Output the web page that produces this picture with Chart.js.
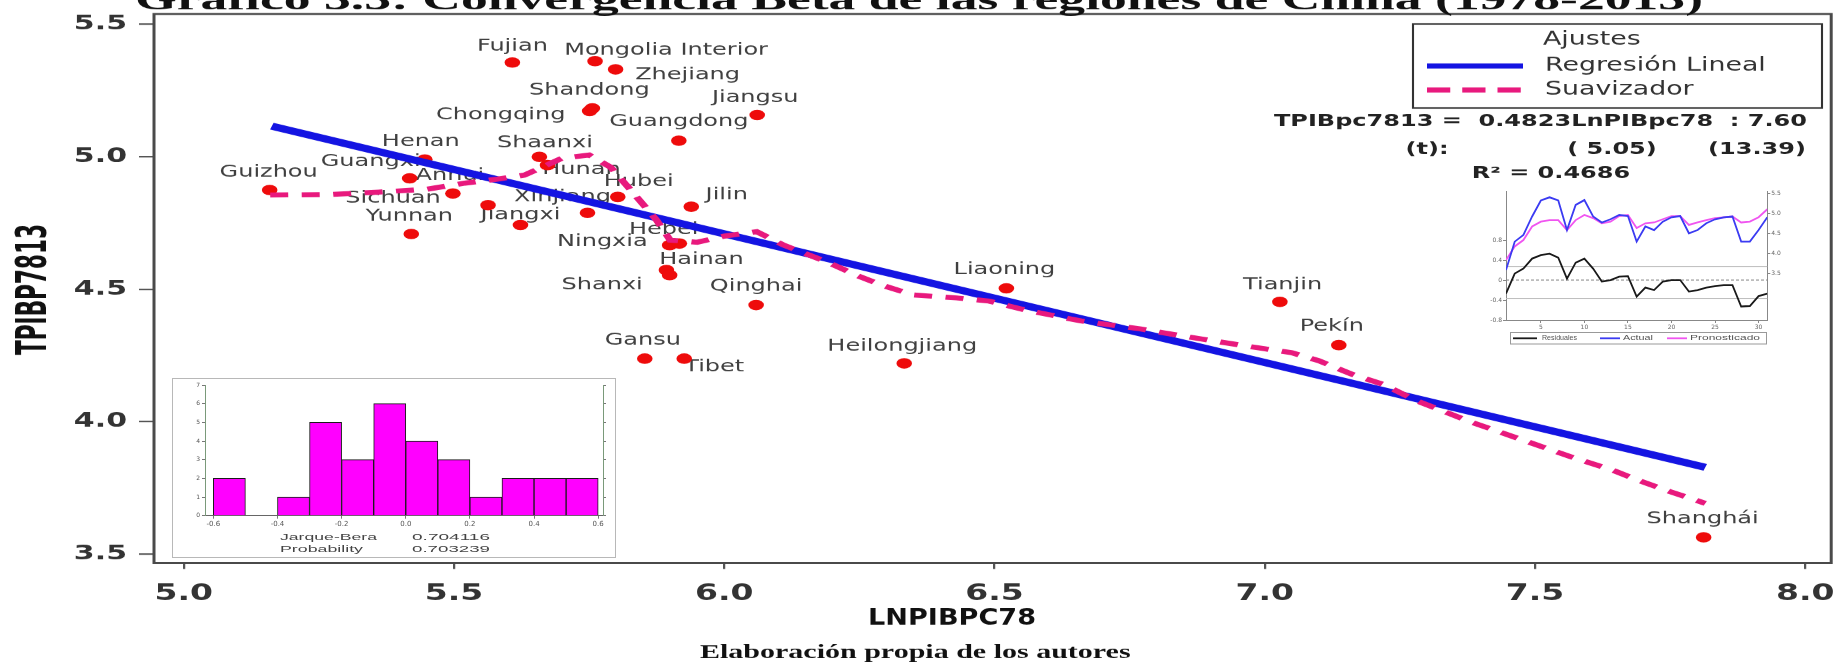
<!DOCTYPE html>
<html>
<head>
<meta charset="utf-8">
<title>Convergencia Beta de las regiones de China (1978-2013)</title>
<script src="https://cdn.jsdelivr.net/npm/chart.js@4.4.1/dist/chart.umd.min.js"></script>
<style>
html, body { margin:0; padding:0; background:#fff; }
#wrap { position:relative; width:1839px; height:662px; overflow:hidden; background:#fff; }
canvas { position:absolute; }
</style>
</head>
<body>
<div id="wrap">
  <canvas id="main" width="1226" height="662" style="left:0;top:0;width:1839px;height:662px;"></canvas>
  <canvas id="hist" width="444" height="180" style="left:172px;top:378px;width:444px;height:180px;"></canvas>
  <canvas id="resid" width="312" height="162" style="left:1484px;top:186px;width:312px;height:162px;"></canvas>
</div>
<script>
// ---------------- DATA ----------------
const regions = ["Fujian","Mongolia Interior","Zhejiang","Shandong","Chongqing","Jiangsu","Guangdong","Henan","Shaanxi","Hunan","Guangxi","Guizhou","Anhui","Sichuan","Xinjiang","Jiangxi","Yunnan","Jilin","Hubei","Hebei","Ningxia","Hainan","Shanxi","Qinghai","Gansu","Tibet","Heilongjiang","Liaoning","Tianjin","Pekín","Shanghái"];
const lnPib78 = [5.608,5.761,5.799,5.756,5.751,6.061,5.916,5.446,5.658,5.673,5.418,5.159,5.498,5.563,5.747,5.623,5.421,5.939,5.803,5.899,5.917,5.893,5.899,6.059,5.853,5.926,6.333,6.522,7.028,7.137,7.812];
const tpib7813 = [5.355,5.360,5.329,5.182,5.172,5.157,5.060,4.989,4.999,4.968,4.918,4.874,4.861,4.817,4.788,4.742,4.708,4.811,4.848,4.666,4.672,4.572,4.553,4.440,4.238,4.238,4.220,4.503,4.452,4.289,3.564];

const regX = [5.163, 7.815];
const regY = [5.115, 3.828];

const smoothX = [5.160,5.270,5.360,5.450,5.520,5.580,5.630,5.700,5.750,5.790,5.835,5.875,5.900,5.950,6.000,6.060,6.110,6.190,6.245,6.290,6.350,6.430,6.490,6.560,6.660,6.770,6.840,6.920,7.000,7.050,7.100,7.160,7.220,7.280,7.380,7.570,7.640,7.690,7.750,7.815];
const smoothY = [4.855,4.857,4.866,4.877,4.900,4.915,4.930,4.994,5.006,4.960,4.855,4.760,4.685,4.677,4.700,4.717,4.666,4.603,4.552,4.516,4.478,4.467,4.455,4.420,4.380,4.350,4.326,4.300,4.275,4.260,4.230,4.180,4.140,4.080,4.000,3.865,3.820,3.780,3.736,3.692];

const xTicks = [5.0,5.5,6.0,6.5,7.0,7.5,8.0];
const xTickLabels = ["5.0","5.5","6.0","6.5","7.0","7.5","8.0"];
const yTicks = [3.5,4.0,4.5,5.0,5.5];
const yTickLabels = ["3.5","4.0","4.5","5.0","5.5"];

// histogram of residuals (inset)
const histCenters = [-0.55,-0.45,-0.35,-0.25,-0.15,-0.05,0.05,0.15,0.25,0.35,0.45,0.55];
const histCounts = [2,0,1,5,3,6,4,3,1,2,2,2];
const histTicks = [-0.6,-0.4,-0.2,0.0,0.2,0.4,0.6];
const histTickLabels = ["-0.6","-0.4","-0.2","0.0","0.2","0.4","0.6"];
const histYTicks = [0,1,2,3,4,5,6,7];

// residual / actual / fitted (inset)
const obs = [1,2,3,4,5,6,7,8,9,10,11,12,13,14,15,16,17,18,19,20,21,22,23,24,25,26,27,28,29,30,31];
const actual = [3.58,4.29,4.46,4.92,5.32,5.40,5.32,4.58,5.21,5.33,4.92,4.77,4.85,4.96,4.93,4.29,4.67,4.58,4.79,4.90,4.93,4.50,4.58,4.75,4.85,4.90,4.92,4.29,4.29,4.58,4.90];
const fitted = [3.83,4.17,4.33,4.67,4.79,4.83,4.83,4.58,4.83,4.96,4.88,4.75,4.79,4.93,4.96,4.63,4.75,4.77,4.85,4.93,4.93,4.71,4.77,4.83,4.88,4.90,4.92,4.77,4.79,4.90,5.10];
const residual = [-0.27,0.13,0.23,0.43,0.50,0.53,0.45,0.03,0.35,0.43,0.23,-0.03,0.00,0.07,0.08,-0.33,-0.15,-0.20,-0.03,0.00,0.00,-0.23,-0.20,-0.15,-0.12,-0.10,-0.10,-0.53,-0.52,-0.32,-0.27];
const residRefLines = [0.27, -0.37];
const obsTicks = [5,10,15,20,25,30];
const residTicks = [-0.8,-0.4,0.0,0.4,0.8];
const levelTicks = [3.5,4.0,4.5,5.0,5.5];

// ---------------- STYLE / LAYOUT ----------------
const SX = 1.5;            // horizontal stretch of the main picture
const BLUE = '#1414e2', PINK = '#e8197d', RED = '#ee0b0b';
Chart.defaults.font.family = '"DejaVu Sans", Verdana, sans-serif';

// label offsets (screen px) from each point
const labelOffsets = {
  "Fujian":[0,-16], "Mongolia Interior":[71,-11], "Zhejiang":[72,6], "Shandong":[-3,-18],
  "Chongqing":[-89,4], "Jiangsu":[-2,-17], "Guangdong":[0,-19], "Henan":[-4,-17.5],
  "Shaanxi":[5.5,-14], "Hunan":[34,5], "Guangxi":[-39,-16.5], "Guizhou":[-1,-17.3],
  "Anhui":[-3,-17.3], "Sichuan":[-95,-6.7], "Xinjiang":[-25,-15.4], "Jiangxi":[0,-10],
  "Yunnan":[-2,-17.3], "Jilin":[35.5,-11.7], "Hubei":[21,-15], "Hebei":[-6,-15],
  "Ningxia":[-77,-1.6], "Hainan":[35,-10], "Shanxi":[-67.5,10], "Qinghai":[0,-18.3],
  "Gansu":[-2,-18.3], "Tibet":[30,8.4], "Heilongjiang":[-2,-16.6], "Liaoning":[-2,-18.3],
  "Tianjin":[2.7,-16.7], "Pekín":[-7,-18.3], "Shanghái":[-1,-18.2]
};

function fixPad(s) { s.paddingTop = 0; s.paddingBottom = 0; s.paddingLeft = 0; s.paddingRight = 0; }

function txt(ctx, s, x, y, o) {
  o = o || {};
  const sx = o.sx || SX;
  ctx.save();
  ctx.font = o.font || '16px "DejaVu Sans"';
  ctx.fillStyle = o.color || '#333';
  ctx.textAlign = o.align || 'center';
  ctx.textBaseline = o.baseline || 'middle';
  ctx.translate(x / sx, y);
  if (o.rotate) ctx.rotate(o.rotate);
  let hs = o.hscale || 1;
  if (o.width) {
    const w = ctx.measureText(s).width;
    hs = o.rotate ? o.width / w : o.width / (sx * w);
  }
  ctx.scale(hs, 1);
  ctx.fillText(s, 0, 0);
  ctx.restore();
}

// ---------------- MAIN CHART ----------------
const decor = {
  id: 'decor',
  beforeDraw(chart) {
    const c = chart.ctx; c.save(); c.fillStyle = '#fff'; c.fillRect(0, 0, chart.width, chart.height); c.restore();
  },
  beforeDatasetsDraw(chart) {
    const c = chart.ctx, xs = chart.scales.x, ys = chart.scales.y;
    regions.forEach((name, i) => {
      const off = labelOffsets[name] || [0, -17];
      const px = xs.getPixelForValue(lnPib78[i]) * SX + off[0];
      const py = ys.getPixelForValue(tpib7813[i]) + off[1];
      txt(c, name, px, py, { font: '16px "DejaVu Sans"', color: '#404040' });
    });
  },
  afterDraw(chart) {
    const c = chart.ctx, a = chart.chartArea;
    c.save();
    c.strokeStyle = '#4a4a4a'; c.lineWidth = 2;
    c.strokeRect(a.left, a.top, a.right - a.left, a.bottom - a.top);
    // legend box
    c.lineWidth = 1.4; c.strokeStyle = '#333';
    c.strokeRect(1413 / SX, 24, (1822 - 1413) / SX, 84);
    c.lineWidth = 5; c.strokeStyle = BLUE;
    c.beginPath(); c.moveTo(1427 / SX, 66); c.lineTo(1523 / SX, 66); c.stroke();
    c.strokeStyle = PINK; c.setLineDash([15.5, 8]);
    c.beginPath(); c.moveTo(1427 / SX, 90); c.lineTo(1523 / SX, 90); c.stroke();
    c.restore();
    const lf = '19px "DejaVu Sans"';
    txt(c, 'Ajustes', 1543, 40, { font: lf, align: 'left', color: '#333', hscale: 0.94 });
    txt(c, 'Regresión Lineal', 1545, 66, { font: lf, align: 'left', color: '#333', hscale: 0.94 });
    txt(c, 'Suavizador', 1545, 90, { font: lf, align: 'left', color: '#333', hscale: 0.94 });
    // equation
    const ef = 'bold 16px "DejaVu Sans"';
    txt(c, 'TPIBpc7813 =  0.4823LnPIBpc78  : 7.60', 1807, 122, { font: ef, align: 'right', color: '#222' });
    txt(c, '(t):', 1427, 150, { font: ef, color: '#222' });
    txt(c, '( 5.05)', 1612, 150, { font: ef, color: '#222' });
    txt(c, '(13.39)', 1757, 150, { font: ef, color: '#222' });
    txt(c, 'R² = 0.4686', 1551, 174, { font: ef, color: '#222' });
    // titles
    txt(c, 'Gráfico 3.3: Convergencia Beta de las regiones de China (1978-2013)', 135, 9,
        { font: 'bold 31px "Liberation Serif", "Times New Roman", serif', align: 'left', baseline: 'alphabetic', width: 1568, color: '#111' });
    txt(c, 'LNPIBPC78', 868, 619, { font: 'bold 22px "DejaVu Sans"', align: 'left', width: 168, color: '#111' });
    txt(c, 'Elaboración propia de los autores', 700, 653,
        { font: 'bold 20px "Liberation Serif", "Times New Roman", serif', align: 'left', color: '#111' });
    txt(c, 'TPIBP7813', 35, 289.5,
        { font: 'bold 28px "Liberation Sans Narrow", "DejaVu Sans Condensed", sans-serif', rotate: -Math.PI / 2, width: 131, color: '#111' });
  }
};

new Chart(document.getElementById('main'), {
  type: 'scatter',
  data: {
    datasets: [
      { label: 'Suavizador', type: 'line', data: smoothX.map((x, i) => ({ x, y: smoothY[i] })),
        borderColor: PINK, borderWidth: 5, borderDash: [12, 9], pointRadius: 0, showLine: true, fill: false, tension: 0, order: 0 },
      { label: 'Regresión Lineal', type: 'line', data: regX.map((x, i) => ({ x, y: regY[i] })),
        borderColor: BLUE, borderWidth: 7, pointRadius: 0, showLine: true, fill: false, order: 1 },
      { label: 'Regiones', data: lnPib78.map((x, i) => ({ x, y: tpib7813[i] })),
        backgroundColor: RED, borderWidth: 0, pointRadius: 5.2, pointHoverRadius: 5.2, order: 2 }
    ]
  },
  options: {
    responsive: false, animation: false, devicePixelRatio: SX,
    layout: { padding: { left: 0, right: 4, top: 14, bottom: 0 } },
    plugins: { legend: { display: false }, tooltip: { enabled: false }, title: { display: false } },
    scales: {
      x: {
        type: 'linear', min: 4.945, max: 8.048,
        afterBuildTicks: s => { s.ticks = xTicks.map(v => ({ value: v })); },
        afterFit: s => { s.height = 99; fixPad(s); },
        ticks: { callback: (v, i) => xTickLabels[i], font: { size: 22, weight: 'bold' }, color: '#333', padding: 12, autoSkip: false, maxRotation: 0 },
        grid: { display: true, drawOnChartArea: false, drawTicks: true, tickLength: 6, color: '#555', lineWidth: 1.5 },
        border: { display: false }
      },
      y: {
        type: 'linear', min: 3.467, max: 5.538,
        afterBuildTicks: s => { s.ticks = yTicks.map(v => ({ value: v })); },
        afterFit: s => { s.width = 102.67; fixPad(s); },
        ticks: { callback: (v, i) => yTickLabels[i], font: { size: 20, weight: 'bold' }, color: '#333', padding: 8, autoSkip: false },
        grid: { display: true, drawOnChartArea: false, drawTicks: true, tickLength: 10, color: '#555', lineWidth: 1.5 },
        border: { display: false }
      }
    }
  },
  plugins: [decor]
});

// ---------------- HISTOGRAM INSET ----------------
const histDecor = {
  id: 'histDecor',
  beforeDraw(chart) {
    const c = chart.ctx; c.save(); c.fillStyle = '#fff'; c.fillRect(0, 0, chart.width, chart.height);
    c.strokeStyle = '#b8b8b8'; c.lineWidth = 1; c.strokeRect(0.5, 0.5, chart.width - 1, chart.height - 1); c.restore();
  },
  afterDraw(chart) {
    const c = chart.ctx, f = '9px "Liberation Sans", Arial, sans-serif';
    txt(c, 'Jarque-Bera', 108, 160, { sx: 1, font: f, align: 'left', width: 97, color: '#444' });
    txt(c, '0.704116', 240, 160, { sx: 1, font: f, align: 'left', width: 78, color: '#444' });
    txt(c, 'Probability', 108, 172, { sx: 1, font: f, align: 'left', width: 83, color: '#444' });
    txt(c, '0.703239', 240, 172, { sx: 1, font: f, align: 'left', width: 78, color: '#444' });
  }
};
new Chart(document.getElementById('hist'), {
  type: 'bar',
  data: { datasets: [{ data: histCenters.map((x, i) => ({ x, y: histCounts[i] })),
    backgroundColor: '#ff00ff', borderColor: '#1a1a1a', borderWidth: 1, barPercentage: 1, categoryPercentage: 1 }] },
  options: {
    responsive: false, animation: false, devicePixelRatio: 1,
    layout: { padding: { top: 7, left: 0, right: 0, bottom: 0 } },
    plugins: { legend: { display: false }, tooltip: { enabled: false } },
    scales: {
      x: { type: 'linear', min: -0.626, max: 0.615, offset: false,
        afterBuildTicks: s => { s.ticks = histTicks.map(v => ({ value: v })); },
        afterFit: s => { s.height = 42.3; fixPad(s); },
        ticks: { callback: (v, i) => histTickLabels[i], font: { size: 7 }, color: '#555', padding: 1, autoSkip: false, maxRotation: 0 },
        grid: { offset: false, drawOnChartArea: false, tickLength: 3, color: '#777' }, border: { color: '#666' } },
      y: { min: 0, max: 7,
        afterBuildTicks: s => { s.ticks = histYTicks.map(v => ({ value: v })); },
        afterFit: s => { s.width = 33; fixPad(s); },
        ticks: { font: { size: 6 }, color: '#555', padding: 2, autoSkip: false },
        grid: { drawOnChartArea: false, tickLength: 3, color: '#777' }, border: { color: '#7a9a7a' } },
      y2: { position: 'right', min: 0, max: 7,
        afterBuildTicks: s => { s.ticks = histYTicks.map(v => ({ value: v })); },
        afterFit: s => { s.width = 13; fixPad(s); },
        ticks: { display: false },
        grid: { drawOnChartArea: false, tickLength: 3, color: '#777' }, border: { color: '#7a9a7a' } }
    }
  },
  plugins: [histDecor]
});

// ---------------- RESIDUAL / ACTUAL / FITTED INSET ----------------
const residDecor = {
  id: 'residDecor',
  beforeDraw(chart) {
    const c = chart.ctx; c.save(); c.fillStyle = '#fff'; c.fillRect(0, 0, chart.width, chart.height); c.restore();
  },
  beforeDatasetsDraw(chart) {
    const c = chart.ctx, a = chart.chartArea, ys = chart.scales.y;
    c.save();
    c.strokeStyle = '#888'; c.lineWidth = 1; c.setLineDash([3, 2]);
    let y0 = ys.getPixelForValue(0);
    c.beginPath(); c.moveTo(a.left, y0); c.lineTo(a.right, y0); c.stroke();
    c.setLineDash([]); c.strokeStyle = '#bdbdbd';
    residRefLines.forEach(v => { const y = ys.getPixelForValue(v); c.beginPath(); c.moveTo(a.left, y); c.lineTo(a.right, y); c.stroke(); });
    c.restore();
  },
  afterDraw(chart) {
    const c = chart.ctx;
    c.save();
    c.strokeStyle = '#999'; c.lineWidth = 1; c.strokeRect(26.5, 146.5, 256, 11.5);
    const items = [['#1a1a1a', 29, 53, 'Residuales', 58, 35], ['#3b3bf2', 116, 136, 'Actual', 139, 30], ['#f055f0', 183, 203, 'Pronosticado', 206, 70]];
    items.forEach(it => {
      c.strokeStyle = it[0]; c.lineWidth = 1.8;
      c.beginPath(); c.moveTo(it[1], 152.3); c.lineTo(it[2], 152.3); c.stroke();
      txt(c, it[3], it[4], 152.5, { sx: 1, font: '7px "Liberation Sans", Arial, sans-serif', align: 'left', width: it[5], color: '#555' });
    });
    c.restore();
  }
};
const smallTicks = { font: { size: 6 }, color: '#666', padding: 1, autoSkip: false, maxRotation: 0 };
new Chart(document.getElementById('resid'), {
  type: 'line',
  data: { datasets: [
    { label: 'Residuales', data: obs.map((o, i) => ({ x: o, y: residual[i] })), yAxisID: 'y', borderColor: '#1a1a1a', borderWidth: 1.8, pointRadius: 0, tension: 0 },
    { label: 'Actual', data: obs.map((o, i) => ({ x: o, y: actual[i] })), yAxisID: 'y2', borderColor: '#3b3bf2', borderWidth: 1.8, pointRadius: 0, tension: 0 },
    { label: 'Pronosticado', data: obs.map((o, i) => ({ x: o, y: fitted[i] })), yAxisID: 'y2', borderColor: '#f055f0', borderWidth: 1.8, pointRadius: 0, tension: 0 }
  ] },
  options: {
    responsive: false, animation: false, devicePixelRatio: 1,
    layout: { padding: { top: 5.7, left: 0, right: 0, bottom: 0 } },
    plugins: { legend: { display: false }, tooltip: { enabled: false } },
    scales: {
      x: { type: 'linear', min: 1, max: 31,
        afterBuildTicks: s => { s.ticks = obsTicks.map(v => ({ value: v })); },
        afterFit: s => { s.height = 28; fixPad(s); },
        ticks: smallTicks, grid: { drawOnChartArea: false, tickLength: 3, color: '#888' }, border: { color: '#888' } },
      y: { position: 'left', min: -0.8, max: 1.77,
        afterBuildTicks: s => { s.ticks = residTicks.map(v => ({ value: v })); },
        afterFit: s => { s.width = 22; fixPad(s); },
        ticks: smallTicks, grid: { drawOnChartArea: false, tickLength: 3, color: '#888' }, border: { color: '#888' } },
      y2: { position: 'right', min: 2.33, max: 5.54,
        afterBuildTicks: s => { s.ticks = levelTicks.map(v => ({ value: v })); },
        afterFit: s => { s.width = 28.7; fixPad(s); },
        ticks: smallTicks, grid: { drawOnChartArea: false, tickLength: 3, color: '#888' }, border: { color: '#888' } }
    }
  },
  plugins: [residDecor]
});
</script>
</body>
</html>
